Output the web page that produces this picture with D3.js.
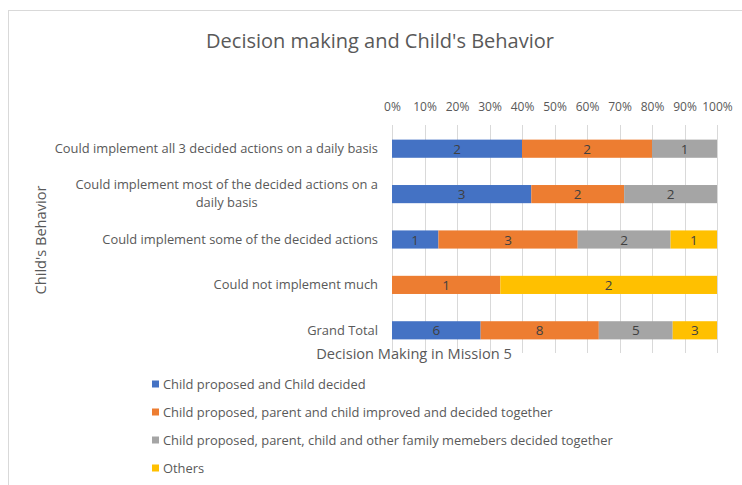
<!DOCTYPE html>
<html>
<head>
<meta charset="utf-8">
<script src="https://cdn.jsdelivr.net/npm/d3@7"></script>
<style>
  body { margin: 0; background: #fff; }
  svg text { font-family: "Open Sans", sans-serif; fill: #595959; }
</style>
</head>
<body>
<svg id="chart" width="742" height="485"></svg>
<script>
var categories = [
  "Could implement all 3 decided actions on a daily basis",
  "Could implement most of the decided actions on a daily basis",
  "Could implement some of the decided actions",
  "Could not implement much",
  "Grand Total"
];
var seriesNames = [
  "Child proposed and Child decided",
  "Child proposed, parent and child improved and decided together",
  "Child proposed, parent, child and other family memebers decided together",
  "Others"
];
var childDecided = [2, 3, 1, 0, 6];
var improvedTogether = [2, 2, 3, 1, 8];
var familyTogether = [1, 2, 2, 0, 5];
var others = [0, 0, 1, 2, 3];
var tickLabels = ["0%", "10%", "20%", "30%", "40%", "50%", "60%", "70%", "80%", "90%", "100%"];
var colors = ["#4472C4", "#ED7D31", "#A5A5A5", "#FFC000"];

var seriesValues = [childDecided, improvedTogether, familyTogether, others];

var svg = d3.select("#chart");

// chart area border
svg.append("rect")
  .attr("x", 8.5).attr("y", 10.5)
  .attr("width", 800).attr("height", 600)
  .attr("fill", "none").attr("stroke", "#d9d9d9");

var x = d3.scaleLinear().domain([0, 1]).range([392, 717]);
var y = d3.scaleBand().domain(categories).range([126, 353]).paddingInner(0.6).paddingOuter(0.3);

// rows of stacked fractions (100% stacked)
var rows = categories.map(function(c, i) {
  var row = { cat: c };
  var total = 0;
  seriesValues.forEach(function(s) { total += s[i]; });
  seriesValues.forEach(function(s, k) { row["s" + k] = s[i] / total; row["v" + k] = s[i]; });
  return row;
});
var stacked = d3.stack().keys(["s0", "s1", "s2", "s3"])(rows);

// gridlines
svg.append("g")
  .selectAll("line")
  .data(d3.range(0, 1.0001, 0.1))
  .enter().append("line")
    .attr("x1", function(d) { return Math.round(x(d)) + 0.5; })
    .attr("x2", function(d) { return Math.round(x(d)) + 0.5; })
    .attr("y1", 125).attr("y2", 353)
    .attr("stroke", "#d9d9d9");

// top axis labels
var xAxis = d3.axisTop(x)
  .tickValues(d3.range(0, 1.0001, 0.1))
  .tickFormat(function(d, i) { return tickLabels[i]; })
  .tickSize(0).tickPadding(0);
var ax = svg.append("g").attr("transform", "translate(0,111)").call(xAxis);
ax.select(".domain").remove();
ax.selectAll("text").style("font-size", "12px").attr("fill", "#595959");

// bars
var layer = svg.append("g").selectAll("g")
  .data(stacked)
  .enter().append("g")
    .attr("fill", function(d, i) { return colors[i]; });

layer.selectAll("rect")
  .data(function(d) { return d; })
  .enter().append("rect")
    .attr("x", function(d) { return x(d[0]); })
    .attr("width", function(d) { return x(d[1]) - x(d[0]); })
    .attr("y", function(d) { return y(d.data.cat); })
    .attr("height", y.bandwidth());

// data labels (zeros are not shown)
layer.each(function(s, k) {
  d3.select(this).selectAll("text")
    .data(s.filter(function(d) { return d.data["v" + k] > 0; }))
    .enter().append("text")
      .attr("x", function(d) { return (x(d[0]) + x(d[1])) / 2; })
      .attr("y", function(d) { return y(d.data.cat) + y.bandwidth() / 2 + 5; })
      .attr("text-anchor", "middle")
      .style("font-size", "13.5px")
      .style("fill", "#404040")
      .text(function(d) { return d.data["v" + k]; });
});

// category labels
var catLines = {
  "Could implement most of the decided actions on a daily basis":
    ["Could implement most of the decided actions on a", "daily basis"]
};
var catG = svg.append("g");
categories.forEach(function(c) {
  var cy = y(c) + y.bandwidth() / 2;
  var lines = catLines[c];
  if (lines) {
    var first = catG.append("text").attr("x", 378).attr("y", cy - 5)
      .attr("text-anchor", "end").style("font-size", "12.9px").text(lines[0]);
    var w = first.node().getComputedTextLength();
    catG.append("text").attr("x", 378 - w / 2).attr("y", cy + 12.5)
      .attr("text-anchor", "middle").style("font-size", "12.9px").text(lines[1]);
  } else {
    catG.append("text").attr("x", 378).attr("y", cy + 4.5)
      .attr("text-anchor", "end").style("font-size", "12.9px").text(c);
  }
});

// title
svg.append("text")
  .attr("x", 380).attr("y", 48)
  .attr("text-anchor", "middle")
  .style("font-size", "20px")
  .text("Decision making and Child's Behavior");

// axis titles
svg.append("text")
  .attr("x", 414).attr("y", 359)
  .attr("text-anchor", "middle")
  .style("font-size", "14.6px")
  .text("Decision Making in Mission 5");

svg.append("text")
  .attr("transform", "translate(46,240) rotate(-90)")
  .attr("text-anchor", "middle")
  .style("font-size", "14.6px")
  .text("Child's Behavior");

// legend
var legend = svg.append("g").selectAll("g")
  .data(seriesNames)
  .enter().append("g")
    .attr("transform", function(d, i) { return "translate(152," + (384 + i * 28) + ")"; });
legend.append("rect")
  .attr("x", 0).attr("y", -3.5).attr("width", 7).attr("height", 7)
  .attr("fill", function(d, i) { return colors[i]; });
legend.append("text")
  .attr("x", 11).attr("y", 4.7)
  .style("font-size", "12.9px")
  .text(function(d) { return d; });
</script>
</body>
</html>
